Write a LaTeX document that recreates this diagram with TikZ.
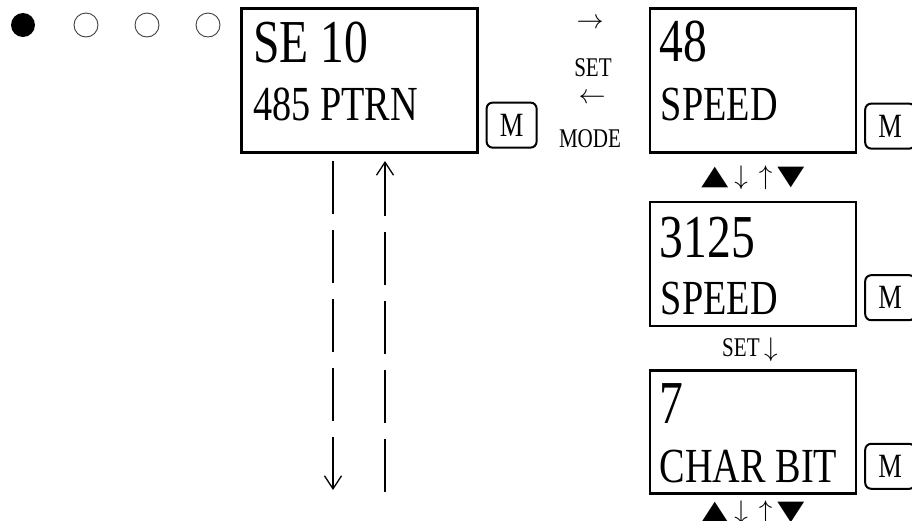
\RequirePackage{fix-cm}
\documentclass[tikz,border=0pt]{standalone}
\usepackage{fontspec}
\setmainfont{Liberation Serif}
\newfontfamily\lcdfont[FakeStretch=0.78]{Liberation Serif}
\newfontfamily\symfont{DejaVu Sans}
\usepackage{tikz}
\usetikzlibrary{arrows.meta,positioning,calc}

\begin{document}
\begin{tikzpicture}[x=1pt, y=1pt,
  lcd/.style={draw, line width=2.6pt, inner sep=0pt, minimum width=206pt},
  keybox/.style={draw, line width=2pt, rounded corners=6pt, minimum width=50pt, minimum height=45pt, inner sep=0pt, font=\lcdfont\fontsize{34}{34}\selectfont},
  bigtxt/.style={anchor=base west, inner sep=0pt, font=\lcdfont\fontsize{61}{61}\selectfont},
  smalltxt/.style={anchor=base west, inner sep=0pt, font=\lcdfont\fontsize{49}{49}\selectfont},
  lbl/.style={inner sep=0pt, font=\lcdfont\fontsize{27}{27}\selectfont},
  navtxt/.style={inner sep=0pt, font=\symfont\fontsize{27}{27}\selectfont},
  dot/.style={circle, fill=black, minimum size=24pt, inner sep=0pt},
  ring/.style={circle, draw=black!75, line width=0.9pt, minimum size=24pt, inner sep=0pt},
  flow/.style={line width=1.8pt, dash pattern=on 53pt off 16pt, -{Straight Barb[length=13pt,width=17pt,line width=1.3pt]}}]
\useasboundingbox (0,0) rectangle (912,-520);
% mode indicator dots
\node[dot] (c1) at (23,-25) {};
\foreach \i/\x in {2/86,3/147,4/208}
  \node[ring] (c\i) at (\x,-25) {};
% display boxes
\node[lcd, minimum width=236pt, minimum height=144pt, anchor=north west] (se) at (240,-7) {};
\node[lcd, minimum height=144pt, right=170pt of se] (spA) {};
\node[lcd, minimum height=124pt, below=47pt of spA] (spB) {};
\node[lcd, minimum height=123pt, below=42pt of spB] (cb) {};
% display texts
\node[bigtxt] (seTop) at ([xshift=13pt,yshift=-55pt]se.north west) {SE 10};
\node[smalltxt] (seBot) at ([xshift=13pt,yshift=-113pt]se.north west) {485 PTRN};
\node[bigtxt] (spATop) at ([xshift=11pt,yshift=-54pt]spA.north west) {48};
\node[smalltxt] (spABot) at ([xshift=12pt,yshift=-113pt]spA.north west) {SPEED};
\node[bigtxt] (spBTop) at ([xshift=11pt,yshift=-57pt]spB.north west) {3125};
\node[smalltxt] (spBBot) at ([xshift=12pt,yshift=-114pt]spB.north west) {SPEED};
\node[bigtxt] (cbTop) at ([xshift=11pt,yshift=-54pt]cb.north west) {7};
\node[smalltxt] (cbBot) at ([xshift=11pt,yshift=-113pt]cb.north west) {CHAR BIT};
% M keys
\node[keybox, anchor=south west] (m1) at ([xshift=7pt,yshift=5pt]se.south east) {M};
\node[keybox, anchor=south west] (m2) at ([xshift=7pt,yshift=4pt]spA.south east) {M};
\node[keybox, anchor=south west] (m3) at ([xshift=7pt,yshift=6pt]spB.south east) {M};
\node[keybox, anchor=south west] (m4) at ([xshift=7pt,yshift=5pt]cb.south east) {M};
% key labels between first and second display
\node[lbl] (goR) at (590,-24) {$\rightarrow$};
\node[lbl] (setR) at (593,-68) {SET};
\node[lbl] (goL) at (592,-99) {$\leftarrow$};
\node[lbl] (modeL) at (590,-139) {MODE};
\node[navtxt] (navA) at ([yshift=-24pt]spA.south) {\scalebox{1.3}[1]{▲}\hspace{6pt}$\downarrow$\hspace{11pt}$\uparrow$\hspace{5pt}\scalebox{1.3}[1]{▼}};
\node[lbl] (setD) at ([xshift=-3pt,yshift=-23pt]spB.south) {SET\,$\downarrow$};
\node[navtxt] (navB) at ([yshift=-18pt]cb.south) {\scalebox{1.3}[1]{▲}\hspace{6pt}$\downarrow$\hspace{11pt}$\uparrow$\hspace{5pt}\scalebox{1.3}[1]{▼}};
% scroll arrows under first display
\coordinate (dnA) at (333,-161);
\coordinate (dnB) at (333,-490);
\coordinate (upA) at (385,-492);
\coordinate (upB) at (385,-161);
\draw[flow] (dnA) -- (dnB);
\draw[flow] (upA) -- (upB);
\end{tikzpicture}
\end{document}
